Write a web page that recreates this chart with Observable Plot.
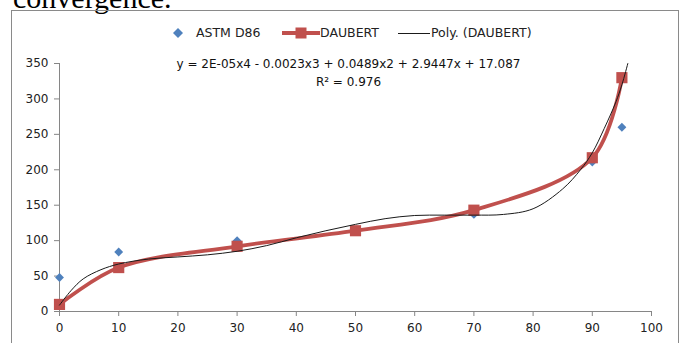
<!DOCTYPE html>
<html>
<head>
<meta charset="utf-8">
<script src="https://cdn.jsdelivr.net/npm/d3@7"></script>
<script src="https://cdn.jsdelivr.net/npm/@observablehq/plot@0.6"></script>
<style>
  html, body { margin: 0; padding: 0; background: #fff; }
  #wrap { position: relative; width: 684px; height: 343px; overflow: hidden; background: #fff; }
  #top { position: absolute; left: 13px; top: -17px; font-family: "Liberation Serif", serif; font-size: 30px; line-height: 30px; color: #000; white-space: nowrap; }
  #frame { position: absolute; left: 11px; top: 10px; width: 668px; height: 400px; border: 1.6px solid #8a8a8a; box-sizing: border-box; }
  #chart { position: absolute; left: 0; top: 0; }
  .leg { position: absolute; top: 25px; height: 16px; font-family: "DejaVu Sans", sans-serif; font-size: 12.5px; line-height: 16px; color: #222; white-space: nowrap; }
  .leg svg { position: absolute; top: 0; }
</style>
</head>
<body>
<div id="wrap">
  <div id="top">convergence.</div>
  <div id="frame"></div>
  <div id="chart"></div>
  <div class="leg" style="left:172px"><svg width="12" height="16"><path d="M6,3 L11,8 L6,13 L1,8 Z" fill="#4F81BD"/></svg><span style="position:absolute;left:24px">ASTM D86</span></div>
  <div class="leg" style="left:282px"><svg width="38" height="16"><line x1="0" y1="8" x2="38" y2="8" stroke="#C0504D" stroke-width="3.8"/><rect x="13.5" y="2.5" width="11" height="11" fill="#C0504D"/></svg><span style="position:absolute;left:38px">DAUBERT</span></div>
  <div class="leg" style="left:398px"><svg width="32" height="16"><line x1="0" y1="8.5" x2="32" y2="8.5" stroke="#1a1a1a" stroke-width="1"/></svg><span style="position:absolute;left:33px">Poly. (DAUBERT)</span></div>
</div>
<script>
// Distillation % recovered
const pct = [0, 10, 30, 50, 70, 90, 95];
// ASTM D86 (no point at 50)
const astmPct = [0, 10, 30, 70, 90, 95];
const astmTemp = [48, 84, 100, 137, 211, 260];
// DAUBERT
const daubertTemp = [10, 62, 92, 114, 143, 217, 330];
// Poly. (DAUBERT) trendline
const polyPct = [0, 2, 4, 7, 10, 15, 20, 25, 30, 35, 40, 45, 50, 55, 60, 65, 70, 75, 80, 85, 88, 90, 92, 94, 95, 96];
const polyTemp = [9, 30, 46, 59, 67, 74, 77, 80, 85, 93, 104, 114, 123, 131, 135.5, 136, 136, 137, 145, 173, 200, 224, 258, 296, 320, 350];
// Ticks
const xTicks = [0, 10, 20, 30, 40, 50, 60, 70, 80, 90, 100];
const yTicks = [0, 50, 100, 150, 200, 250, 300, 350];
// Trendline label
const eqText = "y = 2E-05x4 - 0.0023x3 + 0.0489x2 + 2.9447x + 17.087";
const r2Text = "R² = 0.976";

const astm = astmPct.map((x, i) => ({x, y: astmTemp[i]}));
const daubert = pct.map((x, i) => ({x, y: daubertTemp[i]}));
const poly = polyPct.map((x, i) => ({x, y: polyTemp[i]}));

const axisColor = "#868686";
const chart = Plot.plot({
  width: 684,
  height: 343,
  marginLeft: 59,
  marginRight: 33,
  marginTop: 63,
  marginBottom: 32,
  x: {domain: [0, 100]},
  y: {domain: [0, 350]},
  style: {fontFamily: "DejaVu Sans, sans-serif", fontSize: "12px", color: "#222", background: "transparent", overflow: "visible"},
  marks: [
    Plot.ruleX([0], {stroke: axisColor, strokeWidth: 1}),
    Plot.ruleY([0], {stroke: axisColor, strokeWidth: 1}),
    Plot.axisY({ticks: yTicks, tickSize: 5, tickPadding: 6, stroke: axisColor, fill: "#222", label: null}),
    Plot.axisX({ticks: xTicks, tickSize: 5, tickPadding: 7, stroke: axisColor, fill: "#222", label: null}),
    Plot.dot(astm, {x: "x", y: "y", symbol: "diamond2", r: 4, fill: "#4F81BD", stroke: "none"}),
    Plot.line(daubert, {x: "x", y: "y", curve: "catmull-rom", stroke: "#C0504D", strokeWidth: 3.8}),
    Plot.dot(daubert, {x: "x", y: "y", symbol: "square", r: 6.3, fill: "#C0504D", stroke: "none"}),
    Plot.line(poly, {x: "x", y: "y", curve: "catmull-rom", stroke: "#1a1a1a", strokeWidth: 1}),
    Plot.text([eqText], {text: d => d, frameAnchor: "top", lineAnchor: "middle", dx: -7, dy: 1, fill: "#111", fontSize: 12}),
    Plot.text([r2Text], {text: d => d, frameAnchor: "top", lineAnchor: "middle", dx: -7, dy: 19, fill: "#111", fontSize: 12})
  ]
});
document.getElementById("chart").appendChild(chart);
</script>
</body>
</html>
